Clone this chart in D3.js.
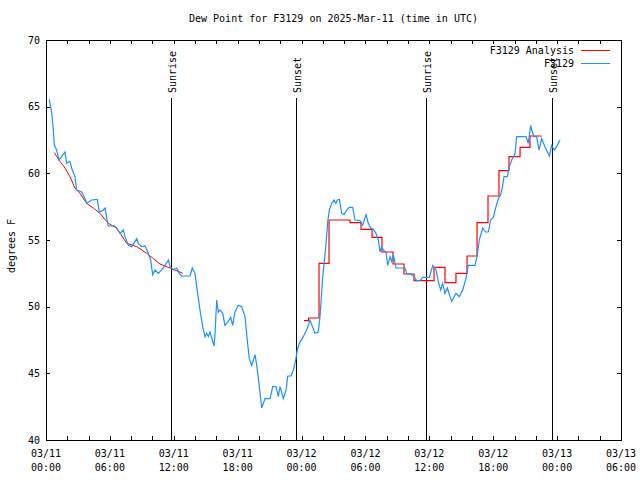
<!DOCTYPE html>
<html><head><meta charset="utf-8">
<script src="https://cdn.jsdelivr.net/npm/d3@7"></script>
<style>
body{margin:0;background:#fff;}
text{font-family:"DejaVu Sans Mono",monospace;font-size:10px;fill:#000;}
</style></head>
<body><svg id="c" width="640" height="480"></svg>
<script>
// hours since 2025-03-11 00:00 UTC
const obsHours = [0.31,0.54,0.69,0.78,1.0,1.22,1.47,1.78,1.94,2.25,2.41,2.72,2.88,3.35,3.66,3.82,4.29,4.82,5.0,5.38,5.54,5.76,5.85,6.48,6.95,7.26,7.42,7.73,8.05,8.52,8.67,8.99,9.3,9.61,9.83,10.02,10.24,10.55,11.02,11.49,11.65,11.96,12.27,12.52,12.74,13.52,13.74,13.99,14.15,14.46,14.72,14.93,15.09,15.24,15.4,15.78,15.87,16.03,16.18,16.34,16.59,16.81,17.12,17.35,17.53,17.75,18.06,18.38,18.69,18.9,19.09,19.32,19.63,19.79,20.0,20.26,20.57,21.04,21.29,21.6,21.82,21.98,22.29,22.54,22.7,23.01,23.23,23.45,23.6,23.79,24.16,24.48,24.79,25.26,25.57,25.73,25.99,26.14,26.3,26.46,26.61,26.83,27.05,27.23,27.36,27.55,27.77,27.99,28.24,28.48,28.8,29.02,29.49,29.74,30.05,30.27,30.49,30.74,30.99,31.21,31.37,31.53,31.68,31.93,32.09,32.31,32.46,32.62,32.87,33.72,33.87,34.34,34.56,34.81,35.12,35.38,36.0,36.32,36.63,36.84,37.07,37.25,37.47,37.69,37.88,38.1,38.5,38.81,39.13,39.44,39.66,40.29,40.51,40.69,41.01,41.29,41.54,41.76,42.01,42.23,42.48,42.7,42.89,43.01,43.32,43.51,43.74,44.05,44.2,45.08,45.29,45.52,45.61,45.83,46.08,46.3,46.55,46.86,47.27,47.49,47.74,48.02,48.27];
const obsValues = [65.55,64.5,63.25,62.1,61.75,61.0,61.25,61.6,60.75,60.9,60.4,59.75,58.75,58.6,58.1,57.75,58.0,58.05,57.1,57.25,57.4,56.4,56.05,56.05,55.5,55.75,55.25,54.6,54.5,55.1,54.75,54.5,54.55,54.0,53.5,52.4,52.75,52.5,52.9,53.5,53.0,52.75,52.9,52.5,52.3,52.3,52.9,52.5,51.5,49.75,48.5,47.75,48.0,47.75,48.1,47.05,47.9,50.5,49.6,49.75,49.5,48.6,48.9,49.2,48.6,49.6,50.1,50.0,49.25,47.5,46.1,45.6,46.4,45.6,44.25,42.4,43.1,43.1,44.0,44.0,43.25,44.0,43.1,43.75,44.8,44.8,45.25,46.0,46.75,47.25,47.75,48.25,49.0,48.0,48.1,49.25,52.25,53.4,54.75,56.4,57.25,57.75,58.0,57.75,58.0,58.05,57.0,56.9,57.25,57.45,57.45,56.5,56.45,56.1,56.9,56.25,55.9,55.8,55.5,55.0,54.1,54.5,54.25,54.1,53.1,53.75,53.4,53.9,52.9,52.9,52.5,52.4,52.25,51.95,51.95,52.2,52.2,53.1,52.75,51.9,51.25,51.75,51.0,51.4,50.9,50.4,51.0,50.75,51.25,52.1,53.1,53.1,53.9,55.0,55.9,55.6,55.6,56.5,56.7,57.4,58.1,58.4,59.1,59.75,59.75,60.5,61.0,61.5,62.75,62.75,62.25,63.6,63.25,62.75,62.75,61.75,62.6,62.0,61.3,62.1,61.75,62.1,62.5];

// analysis, first (smooth) segment
const anaHoursA = [0.78,1.31,1.78,2.25,2.72,3.19,3.82,4.44,5.07,5.85,6.64,7.58,8.52,9.46,10.08,10.71,11.65,12.58,12.84];
const anaValuesA = [61.55,60.9,60.4,59.75,58.9,58.5,57.75,57.4,57.0,56.25,55.9,54.75,54.5,54.0,53.6,53.2,52.9,52.6,52.5];
// analysis, second (hourly step) segment
const anaHoursB = [24.23,24.65,25.64,26.58,28.55,29.58,30.62,31.55,32.59,33.62,34.56,36.44,37.47,38.5,39.54,40.48,41.51,42.54,43.48,44.52,45.45,46.55];
const anaValuesB = [48.95,49.15,53.25,56.5,56.3,55.8,55.2,54.1,53.2,52.45,51.95,52.95,51.8,52.5,53.8,56.3,58.3,60.2,61.25,61.95,62.8,62.8];

const sunEvents = ["Sunrise","Sunset","Sunrise","Sunset"];
const sunHours = [11.71,23.45,35.64,47.49];

const yTicks = [40,45,50,55,60,65,70];
const seriesNames = ["F3129 Analysis","F3129"];

const t0 = Date.UTC(2025,2,11,0,0);
const toDate = h => new Date(t0 + h*3600000);

const L=46,R=621,T=40,B=440;
const svg = d3.select("#c");
const x = d3.scaleUtc().domain([toDate(0), toDate(54)]).range([L,R]);
const y = d3.scaleLinear().domain([40,70]).range([B,T]);

// title
svg.append("text").attr("x",(L+R)/2).attr("y",22).attr("text-anchor","middle")
  .text("Dew Point for F3129 on 2025-Mar-11 (time in UTC)");

// y label
svg.append("text").attr("transform","translate(15,246) rotate(-90)").attr("text-anchor","middle")
  .text("degrees F");

// axes ticks
const fmtTop = d3.utcFormat("%m/%d"), fmtBot = d3.utcFormat("%H:%M");
const xAxisB = svg.append("g").attr("transform",`translate(0,${B})`)
  .call(d3.axisBottom(x).ticks(d3.utcHour.every(2)).tickSize(-4).tickFormat(""));
const xAxisT = svg.append("g").attr("transform",`translate(0,${T})`)
  .call(d3.axisTop(x).ticks(d3.utcHour.every(2)).tickSize(-4).tickFormat(""));
const yAxisL = svg.append("g").attr("transform",`translate(${L},0)`)
  .call(d3.axisLeft(y).tickValues(yTicks).tickSize(-4).tickFormat(""));
const yAxisR = svg.append("g").attr("transform",`translate(${R},0)`)
  .call(d3.axisRight(y).tickValues(yTicks).tickSize(-4).tickFormat(""));
[xAxisB,xAxisT,yAxisL,yAxisR].forEach(g=>{g.select(".domain").remove();g.selectAll("line").attr("stroke","#000").attr("shape-rendering","crispEdges");});

// x labels
const labTicks = x.ticks(d3.utcHour.every(6));
const xl = svg.append("g");
labTicks.forEach(d=>{
  const t = xl.append("text").attr("text-anchor","middle").attr("x",x(d));
  t.append("tspan").attr("x",x(d)).attr("y",457).text(fmtTop(d));
  t.append("tspan").attr("x",x(d)).attr("y",471).text(fmtBot(d));
});
// y labels
svg.append("g").selectAll("text").data(yTicks).join("text")
  .attr("x",40).attr("y",d=>y(d)).attr("dy","0.35em").attr("text-anchor","end").text(d=>d);

// frame
svg.append("rect").attr("x",L).attr("y",T).attr("width",R-L).attr("height",B-T)
  .attr("fill","none").attr("stroke","#000").attr("shape-rendering","crispEdges");

// sunrise/sunset
sunHours.forEach((h,i)=>{
  const px = Math.round(x(toDate(h)))+0.5;
  svg.append("line").attr("x1",px).attr("x2",px).attr("y1",98).attr("y2",B)
    .attr("stroke","#000").attr("stroke-width",1);
  svg.append("text").attr("transform",`translate(${px+4},93) rotate(-90)`)
    .attr("text-anchor","start").text(sunEvents[i]);
});

// data
const red="#ff0000", blue="#1e90ff";
const lineLin = d3.line().x(d=>x(toDate(d[0]))).y(d=>y(d[1]));
const lineStep = d3.line().x(d=>x(toDate(d[0]))).y(d=>y(d[1])).curve(d3.curveStepAfter);
svg.append("path").attr("d",lineLin(d3.zip(anaHoursA,anaValuesA))).attr("fill","none").attr("stroke",red).attr("stroke-width",1);
svg.append("path").attr("d",lineStep(d3.zip(anaHoursB,anaValuesB))).attr("fill","none").attr("stroke",red).attr("stroke-width",1.2);
svg.append("path").attr("d",lineLin(d3.zip(obsHours,obsValues))).attr("fill","none").attr("stroke",blue).attr("stroke-width",1.2);

// legend
const legColors=[red,blue];
seriesNames.forEach((n,i)=>{
  const ly = 50 + i*13;
  svg.append("text").attr("x",574).attr("y",ly).attr("dy","0.35em").attr("text-anchor","end").text(n);
  svg.append("line").attr("x1",581).attr("x2",610).attr("y1",ly+0.5).attr("y2",ly+0.5).attr("stroke",legColors[i]);
});
</script></body></html>
